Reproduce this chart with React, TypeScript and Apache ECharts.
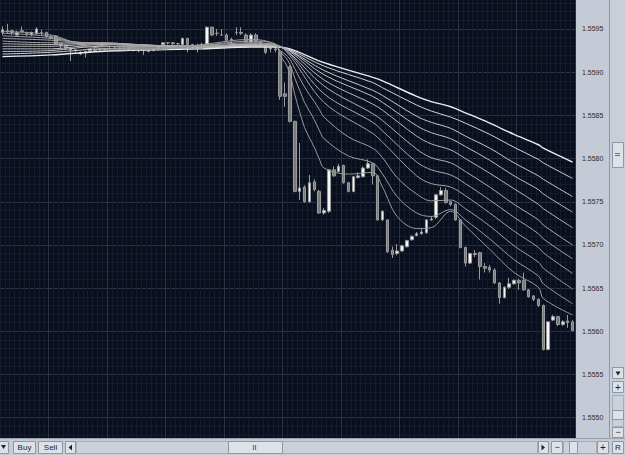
import React, { useEffect, useRef } from "react";
import * as echarts from "echarts";

// ---- candle data (price) ----
const opens = [
  1.55946, 1.55947, 1.55948, 1.55943, 1.55948, 1.55946, 1.55943, 1.55945, 1.55946, 1.55946,
  1.55941, 1.55942, 1.55933, 1.55931, 1.55927, 1.55926, 1.55921, 1.55924, 1.55924, 1.55925,
  1.55926, 1.55926, 1.55927, 1.55927, 1.55928, 1.55927, 1.55927, 1.55926, 1.55926, 1.55925,
  1.55924, 1.55925, 1.55926, 1.55932, 1.55934, 1.55934, 1.55933, 1.55932, 1.55939, 1.55932,
  1.55931, 1.55931, 1.55932, 1.55952, 1.55945, 1.55943, 1.55943, 1.55937, 1.55946, 1.55946,
  1.55943, 1.55935, 1.55943, 1.55935, 1.5593, 1.55928, 1.55927, 1.55923, 1.55875, 1.55906,
  1.55843, 1.55762, 1.55767, 1.5575, 1.55773, 1.55762, 1.55737, 1.55739, 1.55787, 1.55785,
  1.55792, 1.55772, 1.55762, 1.55778, 1.55779, 1.55789, 1.55794, 1.5578, 1.55729, 1.55729,
  1.55694, 1.5569, 1.55693, 1.55698, 1.55706, 1.55711, 1.55713, 1.55714, 1.55729, 1.55732,
  1.55758, 1.55763, 1.5575, 1.55747, 1.55729, 1.55697, 1.55679, 1.55689, 1.55691, 1.55675,
  1.55674, 1.55671, 1.55656, 1.55639, 1.55651, 1.55655, 1.55659, 1.55659, 1.55648, 1.55641,
  1.55637, 1.5563, 1.55579, 1.55613, 1.55617, 1.55608, 1.55612, 1.55611,
];
const closes = [
  1.55949, 1.55948, 1.55946, 1.55946, 1.55947, 1.55945, 1.55946, 1.5595, 1.55946, 1.55941,
  1.5594, 1.55933, 1.55931, 1.55928, 1.55926, 1.55925, 1.55923, 1.55923, 1.55925, 1.55926,
  1.55926, 1.55927, 1.55927, 1.55928, 1.55927, 1.55927, 1.55926, 1.55926, 1.55925, 1.55925,
  1.55925, 1.55926, 1.55928, 1.55934, 1.55934, 1.55933, 1.55933, 1.55939, 1.55932, 1.55931,
  1.55931, 1.55932, 1.55952, 1.55943, 1.55945, 1.55943, 1.55937, 1.55938, 1.55946, 1.55945,
  1.55935, 1.55943, 1.55935, 1.55933, 1.55923, 1.55927, 1.55926, 1.55872, 1.55872, 1.55843,
  1.55762, 1.55766, 1.5575, 1.55772, 1.55764, 1.55737, 1.5574, 1.55787, 1.5578, 1.55791,
  1.55772, 1.55762, 1.55779, 1.5578, 1.55789, 1.55794, 1.5578, 1.55729, 1.55739, 1.55692,
  1.55689, 1.55693, 1.55699, 1.55705, 1.5571, 1.55713, 1.55715, 1.55729, 1.5573, 1.55758,
  1.55763, 1.55749, 1.55747, 1.55729, 1.55697, 1.55679, 1.5569, 1.5569, 1.55675, 1.55673,
  1.55671, 1.55656, 1.55639, 1.55651, 1.55655, 1.55659, 1.55656, 1.55648, 1.5564, 1.55637,
  1.5563, 1.55579, 1.55611, 1.55617, 1.55608, 1.55611, 1.5561, 1.55601,
];
const lows = [
  1.55943, 1.55945, 1.55943, 1.55942, 1.55946, 1.55942, 1.55942, 1.55943, 1.55943, 1.5594,
  1.55938, 1.55932, 1.55928, 1.55926, 1.55913, 1.55923, 1.5592, 1.55917, 1.55923, 1.55924,
  1.55924, 1.55925, 1.55925, 1.55926, 1.55926, 1.55925, 1.55925, 1.55924, 1.55923, 1.5592,
  1.55923, 1.55924, 1.55925, 1.55931, 1.55932, 1.55931, 1.55931, 1.55931, 1.55923, 1.55928,
  1.55923, 1.5593, 1.55931, 1.55942, 1.55942, 1.55942, 1.55935, 1.55934, 1.55943, 1.55943,
  1.55934, 1.55934, 1.55934, 1.55931, 1.55921, 1.55923, 1.55923, 1.55868, 1.5586, 1.55842,
  1.55761, 1.55752, 1.55749, 1.55749, 1.55762, 1.55736, 1.55735, 1.55737, 1.55779, 1.55784,
  1.55771, 1.55761, 1.55761, 1.55777, 1.55778, 1.55788, 1.5577, 1.55728, 1.55728, 1.55691,
  1.55685, 1.55688, 1.55692, 1.55697, 1.55705, 1.5571, 1.55712, 1.55713, 1.55728, 1.5573,
  1.55757, 1.55748, 1.55745, 1.55728, 1.55696, 1.55675, 1.55678, 1.55686, 1.5566, 1.55668,
  1.55668, 1.55655, 1.55632, 1.55638, 1.55649, 1.55654, 1.55648, 1.55647, 1.55639, 1.55635,
  1.55628, 1.55578, 1.55578, 1.55612, 1.55606, 1.55606, 1.55604, 1.556,
];
const highs = [
  1.55953, 1.55956, 1.55949, 1.55948, 1.55953, 1.55947, 1.55947, 1.55952, 1.55949, 1.55947,
  1.55943, 1.55943, 1.55934, 1.55932, 1.55928, 1.55927, 1.55924, 1.55925, 1.55926, 1.55928,
  1.55928, 1.55928, 1.5593, 1.5593, 1.55928, 1.55928, 1.55928, 1.55927, 1.55927, 1.55926,
  1.55926, 1.55928, 1.5593, 1.55934, 1.55935, 1.55935, 1.55934, 1.5594, 1.5594, 1.55933,
  1.55933, 1.55934, 1.55953, 1.55953, 1.5595, 1.5595, 1.55945, 1.5594, 1.55952, 1.55952,
  1.55945, 1.55945, 1.55945, 1.55937, 1.55931, 1.5593, 1.5593, 1.55924, 1.55888, 1.55908,
  1.55844, 1.55818, 1.55769, 1.55781, 1.55776, 1.55764, 1.55743, 1.55788, 1.55791, 1.55794,
  1.55793, 1.55773, 1.5578, 1.55784, 1.55791, 1.55799, 1.55795, 1.55781, 1.5574, 1.5573,
  1.55698, 1.55701, 1.557, 1.55706, 1.55711, 1.55715, 1.55719, 1.5573, 1.55733, 1.55759,
  1.55767, 1.55766, 1.55751, 1.55748, 1.5573, 1.55698, 1.55691, 1.55694, 1.55692, 1.55679,
  1.55677, 1.55673, 1.55657, 1.55652, 1.55662, 1.5566, 1.55661, 1.55668, 1.55649, 1.55642,
  1.55638, 1.55631, 1.55612, 1.55619, 1.55618, 1.55613, 1.55619, 1.55613,
];

// ---- moving-average lines, read at sample bars ----
const maSlowIdx = [0, 10, 20, 31, 41, 51, 56, 59, 66, 76, 78, 85, 88, 92, 95, 100, 105, 110, 111, 117];
const maFastIdx = [0, 10, 20, 31, 41, 51, 56, 57, 58, 59, 60, 61, 62, 63, 64, 65, 66, 71, 76, 78, 81, 85, 88, 92, 95, 100, 105, 110, 111, 117];

const ma1 = [1.55918, 1.5592, 1.55924, 1.55926, 1.55927, 1.55929, 1.55929, 1.55927, 1.55911, 1.55894, 1.5589, 1.55872, 1.55866, 1.5586, 1.55853, 1.55841, 1.55828, 1.55816, 1.55812, 1.55796];
const ma2 = [1.55921, 1.55923, 1.55927, 1.55928, 1.55928, 1.5593, 1.5593, 1.55926, 1.55907, 1.55888, 1.55882, 1.55862, 1.55855, 1.55848, 1.55841, 1.55828, 1.55813, 1.55799, 1.55795, 1.55777];
const ma3 = [1.55924, 1.55925, 1.5593, 1.5593, 1.55929, 1.5593, 1.5593, 1.55925, 1.55902, 1.55879, 1.55873, 1.55849, 1.55842, 1.55835, 1.55826, 1.55812, 1.55795, 1.5578, 1.55776, 1.55756];
const ma4 = [1.55927, 1.55927, 1.55932, 1.55931, 1.5593, 1.55931, 1.5593, 1.55925, 1.55897, 1.55872, 1.55865, 1.55838, 1.5583, 1.55823, 1.55814, 1.55798, 1.5578, 1.55764, 1.55759, 1.55738];
const ma5 = [1.5593, 1.5593, 1.55933, 1.55931, 1.5593, 1.55931, 1.55931, 1.55924, 1.55891, 1.55863, 1.55856, 1.55826, 1.55817, 1.5581, 1.558, 1.55783, 1.55765, 1.55747, 1.55742, 1.5572];
const ma6 = [1.55933, 1.55932, 1.55934, 1.55931, 1.5593, 1.55932, 1.55931, 1.55922, 1.55884, 1.55852, 1.55844, 1.55811, 1.55801, 1.55795, 1.55785, 1.55767, 1.55747, 1.55729, 1.55723, 1.557];
const ma7 = [1.55936, 1.55934, 1.55934, 1.55931, 1.5593, 1.55932, 1.55931, 1.55921, 1.55875, 1.55842, 1.55832, 1.55796, 1.55787, 1.55781, 1.55771, 1.55752, 1.55732, 1.55713, 1.55707, 1.55684];
const ma8 = [1.55939, 1.55937, 1.55933, 1.5593, 1.5593, 1.55933, 1.55932, 1.55919, 1.55865, 1.55829, 1.55819, 1.5578, 1.55771, 1.55767, 1.55757, 1.55737, 1.55716, 1.55697, 1.55691, 1.55667];
const ma9 = [1.55942, 1.55939, 1.55931, 1.55928, 1.55931, 1.55934, 1.55932, 1.55925, 1.55921, 1.55915, 1.55904, 1.55893, 1.55883, 1.55874, 1.55866, 1.55857, 1.55848, 1.55825, 1.55812, 1.55801, 1.55778, 1.55759, 1.55751, 1.55752, 1.55742, 1.55722, 1.55699, 1.5568, 1.55673, 1.55649];
const ma10 = [1.55945, 1.55941, 1.55928, 1.55927, 1.55931, 1.55936, 1.55933, 1.55923, 1.55918, 1.55909, 1.55893, 1.55879, 1.55865, 1.55855, 1.55845, 1.55833, 1.55823, 1.55803, 1.55795, 1.55782, 1.55756, 1.55737, 1.55733, 1.55741, 1.55729, 1.55707, 1.55683, 1.55664, 1.55655, 1.55632];
const ma11 = [1.55947, 1.55943, 1.55926, 1.55926, 1.55932, 1.55938, 1.55932, 1.55919, 1.55911, 1.55898, 1.55874, 1.55854, 1.55836, 1.55824, 1.55813, 1.558, 1.55789, 1.55782, 1.55784, 1.55767, 1.55733, 1.55719, 1.5572, 1.55739, 1.55722, 1.55695, 1.55668, 1.55651, 1.55638, 1.55619];

const yTickInterval = 0.0005;
const yMin = 1.5545;
const yMax = 1.56;

const PANEL = "#c4cbd7";
const BTN = "#dde1e8";
const BTN_STROKE = "#8f97a5";
const TRACK = "#cbd1db";

function btn(x: number, y: number, w: number, h: number) {
  return {
    type: "rect",
    shape: { x: x + 0.5, y: y + 0.5, width: w, height: h },
    style: { fill: BTN, stroke: BTN_STROKE, lineWidth: 1 },
    z: 101,
  };
}
function label(x: number, y: number, text: string, size = 8) {
  return {
    type: "text",
    x,
    y,
    style: {
      text,
      fill: "#1e1e1e",
      font: `${size}px "Liberation Sans", Arial, sans-serif`,
      align: "center",
      verticalAlign: "middle",
    },
    z: 102,
  };
}

export default function App() {
  const ref = useRef<HTMLDivElement>(null);
  useEffect(() => {
    const chart = echarts.init(ref.current!, null, { renderer: "svg" });
    const cats = opens.map((_, i) => String(i));
    const candles = opens.map((o, i) => [o, closes[i], lows[i], highs[i]]);
    const maLines = [
      { idx: maSlowIdx, v: ma1, c: "#ececec", w: 1.4 },
      { idx: maSlowIdx, v: ma2, c: "#d2d2d2", w: 1 },
      { idx: maSlowIdx, v: ma3, c: "#c8c8c8", w: 1 },
      { idx: maSlowIdx, v: ma4, c: "#c0c0c0", w: 1 },
      { idx: maSlowIdx, v: ma5, c: "#b8b8b8", w: 1 },
      { idx: maSlowIdx, v: ma6, c: "#b0b0b0", w: 1 },
      { idx: maSlowIdx, v: ma7, c: "#aaaaaa", w: 1 },
      { idx: maSlowIdx, v: ma8, c: "#a4a4a4", w: 1 },
      { idx: maFastIdx, v: ma9, c: "#a0a0a0", w: 1 },
      { idx: maFastIdx, v: ma10, c: "#9c9c9c", w: 1 },
      { idx: maFastIdx, v: ma11, c: "#989898", w: 1 },
    ];
    const lineSeries = maLines.map((m) => ({
      type: "line",
      data: m.idx.map((ix, k) => [ix, m.v[k]]),
      showSymbol: false,
      smooth: 0.35,
      silent: true,
      z: 4,
      lineStyle: { color: m.c, width: m.w },
    }));

    const graphics: any[] = [
      // bottom toolbar
      { type: "rect", shape: { x: 0, y: 438, width: 625, height: 17 }, style: { fill: PANEL }, z: 100 },
      { type: "line", shape: { x1: 0, y1: 438.5, x2: 625, y2: 438.5 }, style: { stroke: "#9aa2af", lineWidth: 1 }, z: 100 },
      btn(-1, 441, 9, 12),
      { type: "polygon", shape: { points: [[1, 445], [6, 445], [3.5, 449]] }, style: { fill: "#222" }, z: 102 },
      btn(13, 441, 22, 12),
      label(24.5, 447.5, "Buy"),
      btn(38, 441, 24, 12),
      label(50.5, 447.5, "Sell"),
      btn(65, 441, 10, 12),
      { type: "polygon", shape: { points: [[72, 444.5], [72, 450.5], [68.5, 447.5]] }, style: { fill: "#222" }, z: 102 },
      { type: "rect", shape: { x: 76.5, y: 441.5, width: 461, height: 12 }, style: { fill: TRACK, stroke: "#a5adb9" }, z: 101 },
      btn(228, 441, 54, 12),
      label(254.5, 447.5, "II", 7),
      btn(538, 441, 10, 12),
      { type: "polygon", shape: { points: [[541.5, 444.5], [541.5, 450.5], [545, 447.5]] }, style: { fill: "#222" }, z: 102 },
      btn(551, 441, 11, 12),
      label(557, 447, "−", 9),
      { type: "rect", shape: { x: 563.5, y: 441.5, width: 33, height: 12 }, style: { fill: TRACK, stroke: "#a5adb9" }, z: 101 },
      btn(569, 441, 8, 12),
      btn(597, 441, 11, 12),
      label(603, 447, "+", 10),
      btn(612, 441, 11, 12),
      label(618, 447.5, "R", 8),
      // right vertical scrollbar
      { type: "line", shape: { x1: 609.5, y1: 0, x2: 609.5, y2: 438 }, style: { stroke: "#8f97a4", lineWidth: 1 }, z: 100 },
      { type: "rect", shape: { x: 610, y: 0, width: 15, height: 438 }, style: { fill: "#c9cfd9" }, z: 99 },
      btn(612, 142, 11, 25),
      { type: "line", shape: { x1: 615, y1: 153.5, x2: 620, y2: 153.5 }, style: { stroke: "#707070" }, z: 102 },
      { type: "line", shape: { x1: 615, y1: 155.5, x2: 620, y2: 155.5 }, style: { stroke: "#707070" }, z: 102 },
      btn(612, 367, 11, 11),
      { type: "polygon", shape: { points: [[615.5, 371.5], [620.5, 371.5], [618, 375.5]] }, style: { fill: "#222" }, z: 102 },
      btn(612, 381, 11, 11),
      label(618, 387, "+", 10),
      { type: "rect", shape: { x: 612.5, y: 395.5, width: 11, height: 31 }, style: { fill: TRACK, stroke: "#a5adb9" }, z: 101 },
      btn(612, 410, 11, 9),
      btn(612, 427, 11, 10),
      label(618, 432, "−", 9),
    ];

    chart.setOption({
      animation: false,
      backgroundColor: PANEL,
      grid: {
        left: 0,
        top: -14.2,
        width: 575,
        height: 475.1,
        show: true,
        backgroundColor: "#0a0f1e",
        borderWidth: 0,
        containLabel: false,
        outerBoundsMode: "none",
      },
      xAxis: [
        {
          type: "category",
          data: cats,
          boundaryGap: true,
          axisLine: { show: false },
          axisTick: { show: false },
          axisLabel: { show: false },
          splitLine: { show: true, interval: 0, lineStyle: { color: "#141b2d", width: 1 } },
        },
        {
          type: "category",
          data: cats,
          boundaryGap: true,
          axisLine: { show: false },
          axisTick: { show: false },
          axisLabel: { show: false },
          splitLine: {
            show: true,
            interval: (i: number) => i % 12 === 10,
            lineStyle: { color: "#2a3246", width: 1 },
          },
        },
      ],
      yAxis: {
        type: "value",
        position: "right",
        min: yMin,
        max: yMax,
        interval: yTickInterval,
        axisLine: { show: false },
        axisTick: { show: false },
        axisLabel: {
          margin: 7,
          color: "#2b2b2b",
          fontSize: 7,
          fontFamily: '"Liberation Sans", Arial, sans-serif',
          showMinLabel: false,
          showMaxLabel: false,
          formatter: (v: number) => v.toFixed(4),
        },
        splitLine: { show: true, lineStyle: { color: "#2a3246", width: 1 } },
        minorTick: { show: false, splitNumber: 5 },
        minorSplitLine: { show: true, lineStyle: { color: "#141b2d", width: 1 } },
      },
      series: [
        {
          type: "candlestick",
          data: candles,
          barWidth: 3,
          z: 3,
          silent: true,
          itemStyle: {
            color: "#f5f5f5",
            color0: "#7a7a7a",
            borderColor: "#9a9a9a",
            borderColor0: "#9a9a9a",
            borderWidth: 1,
          },
        },
        ...lineSeries,
      ],
      graphic: graphics,
    });
    return () => chart.dispose();
  }, []);
  return (
    <div
      ref={ref}
      style={{ position: "fixed", left: 0, top: 0, width: 625, height: 455 }}
    />
  );
}
